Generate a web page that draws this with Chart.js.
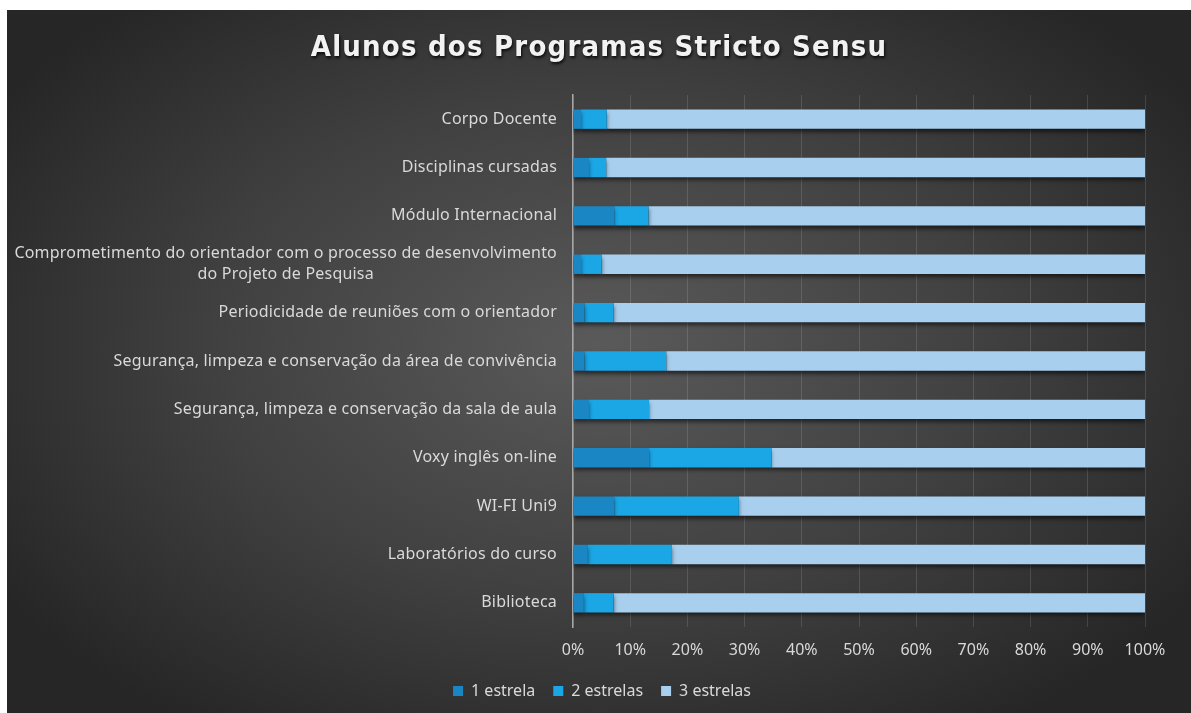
<!DOCTYPE html>
<html>
<head>
<meta charset="utf-8">
<script src="https://cdn.jsdelivr.net/npm/chart.js@4.4.1/dist/chart.umd.min.js"></script>
<style>
  html, body { margin: 0; padding: 0; background: #ffffff; }
  #wrap {
    position: absolute; left: 7px; top: 10px; width: 1184px; height: 703px;
    background: radial-gradient(ellipse 60% 65% at 50% 48%, #5a5a5a 0%, #404040 55%, #262626 100%);
  }
  canvas { display: block; }
</style>
</head>
<body>
<div id="wrap"><canvas id="chart" width="1184" height="703"></canvas></div>
<script>
const title = 'Alunos dos Programas Stricto Sensu'

const categories = [
  'Corpo Docente',
  'Disciplinas cursadas',
  'Módulo Internacional',
  ['Comprometimento do orientador com o processo de desenvolvimento', 'do Projeto de Pesquisa'],
  'Periodicidade de reuniões com o orientador',
  'Segurança, limpeza e conservação da área de convivência',
  'Segurança, limpeza e conservação da sala de aula',
  'Voxy inglês on-line',
  'WI-FI Uni9',
  'Laboratórios do curso',
  'Biblioteca'
]

const umaEstrela    = [1.4, 2.8, 7.2, 1.4, 2.0, 2.0, 2.8, 13.3, 7.2, 2.6, 1.9]
const duasEstrelas  = [4.5, 3.0, 6.0, 3.6, 5.1, 14.3, 10.5, 21.4, 21.8, 14.7, 5.2]
const tresEstrelas  = [94.1, 94.2, 86.8, 95.0, 92.9, 83.7, 86.7, 65.3, 71.0, 82.7, 92.9]

const xTicks = [0, 10, 20, 30, 40, 50, 60, 70, 80, 90, 100]

const labelColor = '#d9d9d9'
const labelFont = '"Noto Sans", sans-serif'

// title with letter spacing and shadow
const titlePlugin = {
  id: 'fancyTitle',
  afterDraw(chart) {
    const ctx = chart.ctx
    ctx.save()
    ctx.font = 'bold 29px "DejaVu Sans Condensed", "DejaVu Sans", sans-serif'
    ctx.letterSpacing = '1.2px'
    ctx.textAlign = 'center'
    ctx.textBaseline = 'middle'
    ctx.shadowColor = 'rgba(0,0,0,0.8)'
    ctx.shadowOffsetX = 1
    ctx.shadowOffsetY = 2
    ctx.shadowBlur = 3
    ctx.fillStyle = '#f2f2f2'
    ctx.fillText(title, chart.width / 2, 38)
    ctx.restore()
  }
}

// category labels: right aligned, extra lines centred under the widest line
const yLabelsPlugin = {
  id: 'yLabels',
  afterDraw(chart) {
    const scale = chart.scales.y
    const ctx = chart.ctx
    const right = scale.right - 16
    const lineH = 21
    ctx.save()
    ctx.font = '16px ' + labelFont
    ctx.letterSpacing = '0.2px'
    ctx.fillStyle = labelColor
    ctx.textBaseline = 'middle'
    categories.forEach((label, i) => {
      const y = scale.getPixelForTick(i)
      const lines = Array.isArray(label) ? label : [label]
      const widths = lines.map(l => ctx.measureText(l).width)
      const maxW = Math.max(...widths)
      const mid = right - maxW / 2
      lines.forEach((line, j) => {
        const ly = y + (j - (lines.length - 1) / 2) * lineH
        ctx.textAlign = 'center'
        ctx.fillText(line, mid, ly)
      })
    })
    ctx.restore()
  }
}

const shadowPlugin = {
  id: 'barShadow',
  beforeDatasetsDraw(chart) {
    const ctx = chart.ctx
    ctx.save()
    ctx.shadowColor = 'rgba(0,0,0,0.55)'
    ctx.shadowOffsetY = 3
    ctx.shadowBlur = 4
  },
  afterDatasetsDraw(chart) {
    chart.ctx.restore()
  }
}

// centre the legend on the whole frame, not on the padded area
const legendCentre = {
  id: 'legendCentre',
  beforeDraw(chart) {
    chart.legend.left = 6
    chart.legend.right = chart.width
  }
}

new Chart(document.getElementById('chart'), {
  type: 'bar',
  data: {
    labels: categories,
    datasets: [
      { label: '1 estrela', data: umaEstrela, backgroundColor: '#1b86c4' },
      { label: '2 estrelas', data: duasEstrelas, backgroundColor: '#1ba6e6' },
      { label: '3 estrelas', data: tresEstrelas, backgroundColor: '#a8cfee' }
    ]
  },
  options: {
    indexAxis: 'y',
    responsive: false,
    animation: false,
    barPercentage: 1,
    categoryPercentage: 0.4,
    layout: { padding: { top: 85, right: 46, bottom: 4, left: 0 } },
    plugins: {
      title: { display: false },
      tooltip: { enabled: false },
      legend: {
        position: 'bottom',
        labels: {
          color: labelColor,
          font: { size: 16, family: labelFont },
          boxWidth: 10,
          boxHeight: 10,
          padding: 18
        }
      }
    },
    scales: {
      x: {
        stacked: true,
        min: 0,
        max: 100,
        afterBuildTicks(scale) {
          scale.ticks = xTicks.map(v => ({ value: v }))
        },
        afterFit(scale) { scale.height = 38 },
        ticks: {
          color: labelColor,
          font: { size: 16, family: labelFont },
          padding: 14,
          callback: v => v + '%'
        },
        grid: { color: 'rgba(255,255,255,0.13)', drawTicks: false },
        border: { display: false }
      },
      y: {
        stacked: true,
        afterFit(scale) { scale.width = 566 },
        ticks: { display: false },
        grid: { display: false },
        border: { display: true, color: '#a6a6a6', width: 1.5 }
      }
    }
  },
  plugins: [legendCentre, shadowPlugin, yLabelsPlugin, titlePlugin]
})
</script>
</body>
</html>
